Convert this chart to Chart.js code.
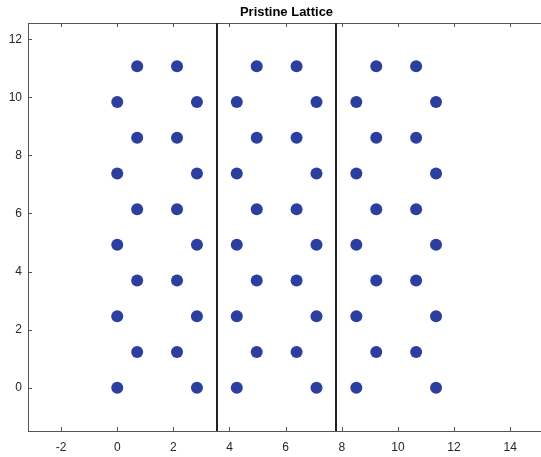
<!DOCTYPE html>
<html>
<head>
<meta charset="utf-8">
<title>Pristine Lattice</title>
<script src="https://cdn.jsdelivr.net/npm/chart.js@4.4.1/dist/chart.umd.min.js"></script>
<style>
  html, body { margin: 0; padding: 0; background: #fff; }
  #wrap { width: 541px; height: 457px; }
</style>
</head>
<body>
<div id="wrap"><canvas id="myChart" width="541" height="457"></canvas></div>
<script>
// atom positions
const atomX = [
  0, 0, 0, 0, 0,
  0.71, 0.71, 0.71, 0.71, 0.71,
  2.13, 2.13, 2.13, 2.13, 2.13,
  2.84, 2.84, 2.84, 2.84, 2.84,
  4.26, 4.26, 4.26, 4.26, 4.26,
  4.97, 4.97, 4.97, 4.97, 4.97,
  6.39, 6.39, 6.39, 6.39, 6.39,
  7.10, 7.10, 7.10, 7.10, 7.10,
  8.52, 8.52, 8.52, 8.52, 8.52,
  9.23, 9.23, 9.23, 9.23, 9.23,
  10.65, 10.65, 10.65, 10.65, 10.65,
  11.36, 11.36, 11.36, 11.36, 11.36
];
const atomY = [
  0, 2.46, 4.92, 7.38, 9.84,
  1.23, 3.69, 6.15, 8.61, 11.07,
  1.23, 3.69, 6.15, 8.61, 11.07,
  0, 2.46, 4.92, 7.38, 9.84,
  0, 2.46, 4.92, 7.38, 9.84,
  1.23, 3.69, 6.15, 8.61, 11.07,
  1.23, 3.69, 6.15, 8.61, 11.07,
  0, 2.46, 4.92, 7.38, 9.84,
  0, 2.46, 4.92, 7.38, 9.84,
  1.23, 3.69, 6.15, 8.61, 11.07,
  1.23, 3.69, 6.15, 8.61, 11.07,
  0, 2.46, 4.92, 7.38, 9.84
];
// cell boundaries (vertical black lines)
const boundaryX = [3.55, 7.81];

const xTicks = [-2, 0, 2, 4, 6, 8, 10, 12, 14];
const yTicks = [0, 2, 4, 6, 8, 10, 12];
const xRange = [-3.18, 15.1];
const yRange = [-1.49, 12.56];

const titleText = "Pristine Lattice";
const FONT = "'Liberation Sans', Arial, sans-serif";

const points = atomX.map((x, i) => ({ x: x, y: atomY[i] }));

// vertical lines, inward tick marks and the title
const extrasPlugin = {
  id: "extras",
  afterDatasetsDraw(chart) {
    const { ctx, chartArea, scales } = chart;
    ctx.save();
    ctx.strokeStyle = "#222";
    ctx.lineWidth = 2;
    boundaryX.forEach((v) => {
      const px = Math.round(scales.x.getPixelForValue(v));
      ctx.beginPath();
      ctx.moveTo(px, chartArea.top);
      ctx.lineTo(px, chartArea.bottom);
      ctx.stroke();
    });

    ctx.strokeStyle = "#555";
    ctx.lineWidth = 1;
    xTicks.forEach((v) => {
      const px = Math.round(scales.x.getPixelForValue(v)) + 0.5;
      ctx.beginPath();
      ctx.moveTo(px, chartArea.bottom);
      ctx.lineTo(px, chartArea.bottom - 4);
      ctx.moveTo(px, chartArea.top);
      ctx.lineTo(px, chartArea.top + 4);
      ctx.stroke();
    });
    yTicks.forEach((v) => {
      const py = Math.round(scales.y.getPixelForValue(v)) + 0.5;
      ctx.beginPath();
      ctx.moveTo(chartArea.left, py);
      ctx.lineTo(chartArea.left + 4, py);
      ctx.stroke();
    });

    ctx.fillStyle = "#000";
    ctx.font = "bold 13px " + FONT;
    ctx.textAlign = "center";
    ctx.textBaseline = "middle";
    ctx.fillText(titleText, (chartArea.left + chartArea.right) / 2 + 2, 12);
    ctx.restore();
  }
};

const ctx = document.getElementById("myChart");
new Chart(ctx, {
  type: "scatter",
  data: {
    datasets: [
      {
        label: "atoms",
        data: points,
        backgroundColor: "rgb(44, 62, 158)",
        borderColor: "rgb(44, 62, 158)",
        pointRadius: 6,
        pointHoverRadius: 6,
        borderWidth: 0
      }
    ]
  },
  options: {
    responsive: false,
    animation: false,
    devicePixelRatio: 1,
    layout: { autoPadding: false, padding: { top: 23, left: 0, right: 0, bottom: 0 } },
    plugins: {
      legend: { display: false },
      title: { display: false },
      tooltip: { enabled: false }
    },
    scales: {
      x: {
        type: "linear",
        position: "bottom",
        min: xRange[0],
        max: xRange[1],
        afterBuildTicks: (axis) => { axis.ticks = xTicks.map((v) => ({ value: v })); },
        afterFit: (axis) => { axis.height = 26; axis.paddingLeft = 0; axis.paddingRight = 0; },
        grid: { display: true, drawOnChartArea: false, drawTicks: false },
        border: { display: true, color: "#555", width: 1 },
        ticks: {
          padding: 9,
          color: "#262626",
          font: { family: FONT, size: 12 },
          maxRotation: 0
        }
      },
      xTop: {
        type: "linear",
        position: "top",
        min: xRange[0],
        max: xRange[1],
        afterFit: (axis) => { axis.height = 0; axis.paddingLeft = 0; axis.paddingRight = 0; },
        grid: { display: true, drawOnChartArea: false, drawTicks: false },
        border: { display: true, color: "#555", width: 1 },
        ticks: { display: false }
      },
      y: {
        type: "linear",
        min: yRange[0],
        max: yRange[1],
        afterBuildTicks: (axis) => { axis.ticks = yTicks.map((v) => ({ value: v })); },
        afterFit: (axis) => { axis.width = 28; },
        grid: { display: true, drawOnChartArea: false, drawTicks: false },
        border: { display: true, color: "#555", width: 1 },
        ticks: {
          padding: 6,
          color: "#262626",
          font: { family: FONT, size: 12 }
        }
      }
    }
  },
  plugins: [extrasPlugin]
});
</script>
</body>
</html>
